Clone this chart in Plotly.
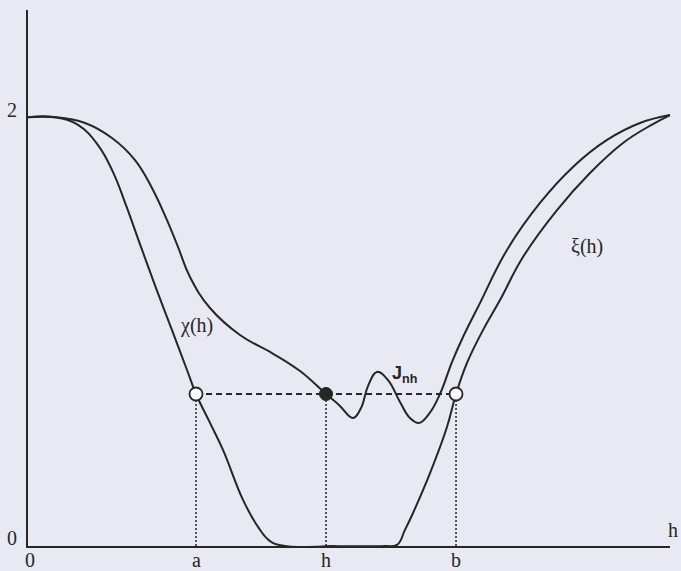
import plotly.graph_objects as go

# --- data (x in abscissa units 0..10, y in ordinate units 0..2.5) ---
chi_x = [0.000, 0.421, 0.779, 1.090, 1.324, 1.526, 1.760, 1.994, 2.243, 2.477, 2.617, 2.835, 3.037, 3.349,
         3.583, 3.769, 4.003, 4.704]
chi_y = [2.000, 2.000, 1.964, 1.870, 1.744, 1.590, 1.395, 1.203, 1.007, 0.821, 0.709, 0.574, 0.448, 0.215,
         0.089, 0.023, 0.000, 0.000]

j_x = [0.000, 0.421, 0.888, 1.308, 1.667, 1.931, 2.150, 2.336, 2.523, 2.835, 3.302, 3.801, 4.237, 4.642,
       4.844, 5.062, 5.187, 5.296, 5.436, 5.607, 5.794, 5.950, 6.090, 6.246, 6.417, 6.604,
       6.776, 7.040, 7.461, 7.975, 8.489, 9.019, 9.533, 10.0]
j_y = [2.000, 2.000, 1.973, 1.903, 1.800, 1.670, 1.530, 1.395, 1.255, 1.110, 0.984, 0.900, 0.816, 0.709,
       0.658, 0.597, 0.644, 0.746, 0.812, 0.774, 0.672, 0.597, 0.574, 0.616, 0.709, 0.858,
       0.975, 1.133, 1.381, 1.600, 1.768, 1.894, 1.973, 2.010]

xi_x = [4.704, 5.561, 5.748, 5.872, 5.997, 6.262, 6.526, 6.667, 6.838, 7.087, 7.352, 7.710, 8.240, 8.754,
        9.268, 9.735, 10.0]
xi_y = [0.000, 0.000, 0.005, 0.075, 0.154, 0.340, 0.555, 0.709, 0.854, 1.007, 1.147, 1.348, 1.567, 1.740,
        1.880, 1.968, 2.010]

level = 0.709
a_val, h_val, b_val = 2.617, 4.642, 6.667
x_tick_vals = [0.031, a_val, h_val, b_val]
x_tick_text = ["0", "a", "h", "b"]
y_tick_vals = [0.0, 2.0]
y_tick_text = ["0", "2"]

X_RANGE = [0, 10]
Y_RANGE = [0, 2.5]

INK = "#262626"
BG = "#e8e9f2"
SERIF = "Liberation Serif, Times New Roman, serif"


def px(x):
    return (x - X_RANGE[0]) / (X_RANGE[1] - X_RANGE[0])


def py(y):
    return (y - Y_RANGE[0]) / (Y_RANGE[1] - Y_RANGE[0])


fig = go.Figure()

for xs, ys in [(chi_x, chi_y), (j_x, j_y), (xi_x, xi_y)]:
    fig.add_trace(go.Scatter(x=xs, y=ys, mode="lines",
                             line=dict(color=INK, width=2, shape="spline", smoothing=1.2),
                             hoverinfo="skip", showlegend=False))

# dashed horizontal level line
fig.add_trace(go.Scatter(x=[a_val, b_val], y=[level, level], mode="lines",
                         line=dict(color=INK, width=1.8, dash="6px,4px"),
                         showlegend=False, hoverinfo="skip"))
# dotted verticals
for xv in [a_val, h_val, b_val]:
    fig.add_trace(go.Scatter(x=[xv, xv], y=[0, level], mode="lines",
                             line=dict(color=INK, width=1.5, dash="2px,2px"),
                             showlegend=False, hoverinfo="skip"))

# circles
fig.add_trace(go.Scatter(x=[a_val, b_val], y=[level, level], mode="markers",
                         marker=dict(size=13, color="white", line=dict(color=INK, width=1.8)),
                         showlegend=False, hoverinfo="skip"))
fig.add_trace(go.Scatter(x=[h_val], y=[level], mode="markers",
                         marker=dict(size=13, color=INK, line=dict(color=INK, width=1)),
                         showlegend=False, hoverinfo="skip"))

ann = []
serif_font = dict(family=SERIF, size=20, color=INK)
for xv, t in zip(x_tick_vals, x_tick_text):
    ann.append(dict(x=px(xv), y=py(-0.064), text=t, showarrow=False, xref="paper", yref="paper",
                    font=serif_font, xanchor="center", yanchor="middle"))
for yv, t in zip(y_tick_vals, y_tick_text):
    ann.append(dict(x=px(-0.249), y=py(yv + 0.035), text=t, showarrow=False, xref="paper", yref="paper",
                    font=serif_font, xanchor="center", yanchor="middle"))
ann.append(dict(x=px(10.05), y=py(0.075), text="h", showarrow=False, xref="paper", yref="paper",
                font=serif_font, xanchor="center", yanchor="middle"))
ann.append(dict(x=2.62, y=1.03, text="χ(h)", showarrow=False, xref="x", yref="y",
                font=serif_font, xanchor="center", yanchor="middle"))
ann.append(dict(x=8.71, y=1.395, text="ξ(h)", showarrow=False, xref="x", yref="y",
                font=serif_font, xanchor="center", yanchor="middle"))
ann.append(dict(x=5.86, y=0.80, text="<b>J<sub>nh</sub></b>", showarrow=False, xref="x", yref="y",
                font=dict(family="Liberation Sans, Arial, sans-serif", size=18, color=INK),
                xanchor="center", yanchor="middle"))

fig.update_layout(
    width=681, height=571,
    margin=dict(l=28, r=11, t=10, b=25),
    paper_bgcolor=BG, plot_bgcolor=BG,
    annotations=ann,
    xaxis=dict(range=X_RANGE, showgrid=False, zeroline=False, showticklabels=False,
               ticks="", showline=True, linecolor=INK, linewidth=2),
    yaxis=dict(range=Y_RANGE, showgrid=False, zeroline=False, showticklabels=False,
               ticks="", showline=True, linecolor=INK, linewidth=2),
)

fig.write_html("out.html", config={"displayModeBar": False},
               post_script="document.body.style.margin='0';document.body.style.background='%s';" % BG)
